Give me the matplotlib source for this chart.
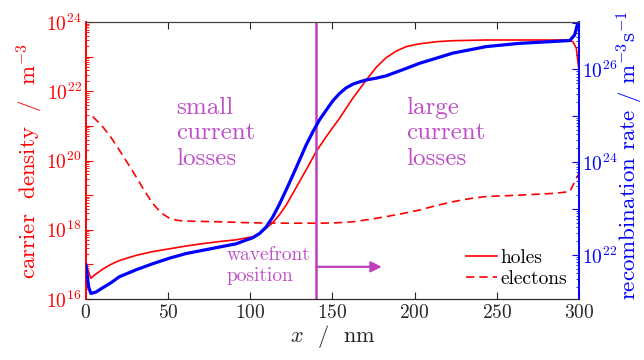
import numpy as np
import matplotlib
matplotlib.use('Agg')
import matplotlib.pyplot as plt
from matplotlib.ticker import FixedLocator, LogLocator, FuncFormatter, NullFormatter

plt.rcParams.update({
    'font.family': 'cmr10',
    'mathtext.fontset': 'cm',
    'axes.unicode_minus': False,
    'axes.formatter.use_mathtext': True,
    'font.size': 14,
})

# holes (left axis), log10 of carrier density in m^-3
holes_x = [0, 3.0, 5.1, 10.1, 15.2, 20.3, 30.5, 40.6, 50.8, 60.9, 71.1, 81.2, 91.4,
           101.5, 105.6, 109.6, 113.7, 117.7, 121.8, 125.9, 129.9, 134.0, 140.1,
           146.2, 154.3, 162.4, 170.5, 176.6, 182.7, 188.8, 194.9, 203.0, 213.2,
           223.3, 243.6, 292.3, 296.4, 298.4, 300]
holes_log = [16.98, 16.60, 16.69, 16.86, 17.00, 17.11, 17.26, 17.37, 17.45, 17.53,
             17.60, 17.66, 17.71, 17.80, 17.90, 18.04, 18.21, 18.43, 18.71, 19.05,
             19.39, 19.73, 20.26, 20.69, 21.22, 21.80, 22.32, 22.69, 22.97, 23.16,
             23.29, 23.37, 23.43, 23.46, 23.48, 23.48, 23.43, 23.24, 22.60]

# electrons (left axis)
elec_x = [4.1, 10.1, 15.2, 20.3, 25.4, 30.5, 35.5, 40.6, 45.7, 50.8, 55.8, 60.9,
          81.2, 101.5, 121.8, 142.1, 152.3, 162.4, 172.6, 182.7, 192.9, 203.0,
          213.2, 223.3, 233.5, 243.6, 263.9, 284.2, 294.4, 300]
elec_log = [21.27, 20.98, 20.67, 20.30, 19.92, 19.53, 19.13, 18.76, 18.49, 18.33,
            18.27, 18.25, 18.23, 18.20, 18.19, 18.19, 18.20, 18.23, 18.30, 18.38,
            18.47, 18.57, 18.70, 18.81, 18.90, 18.96, 19.00, 19.05, 19.10, 19.63]

# recombination rate (right axis), log10 in m^-3 s^-1
rec_x = [0, 1.6, 3.0, 6.1, 10.1, 15.2, 20.3, 30.5, 40.6, 50.8, 60.9, 71.1, 81.2,
         91.4, 97.4, 101.5, 105.6, 109.6, 113.7, 117.7, 121.8, 125.9, 129.9, 134.0,
         138.0, 142.1, 146.2, 150.2, 154.3, 158.3, 162.4, 166.5, 170.5, 176.6,
         182.7, 188.8, 194.9, 203.0, 213.2, 223.3, 233.5, 243.6, 263.9, 284.2,
         294.4, 297.4, 300]
rec_log = [21.78, 21.31, 21.17, 21.20, 21.29, 21.40, 21.53, 21.68, 21.81, 21.93,
           22.03, 22.10, 22.17, 22.24, 22.32, 22.37, 22.46, 22.60, 22.82, 23.09,
           23.40, 23.72, 24.04, 24.37, 24.65, 24.91, 25.12, 25.32, 25.48, 25.60,
           25.68, 25.73, 25.77, 25.81, 25.86, 25.94, 26.02, 26.13, 26.24, 26.35,
           26.42, 26.49, 26.56, 26.60, 26.62, 26.74, 27.10]

wavefront_x = 140
arrow_end_x = 180

RED = '#ff0000'
BLUE = '#0000ff'
MAG = '#bf40bf'
TXT = '#c050c8'


def even_decades(v, pos):
    e = int(round(np.log10(v)))
    return r'$10^{%d}$' % e if e % 2 == 0 else ''


fig = plt.figure(figsize=(6.44, 3.6), dpi=100)
ax1 = fig.add_axes([0.1335, 0.1694, 0.7655, 0.7695])
ax2 = ax1.twinx()

ax1.plot(holes_x, 10.0 ** np.array(holes_log), color=RED, lw=1.2, label='holes')
ax1.plot(elec_x, 10.0 ** np.array(elec_log), color=RED, lw=1.2, ls=(0, (5, 3)),
         label='electons')
ax2.plot(rec_x, 10.0 ** np.array(rec_log), color=BLUE, lw=2.3)

ax1.axvline(wavefront_x, color=MAG, lw=1.8)
ax1.annotate('', xy=(arrow_end_x, 10 ** 16.93), xytext=(wavefront_x, 10 ** 16.93),
             arrowprops=dict(arrowstyle='-|>', color=MAG, lw=1.6, mutation_scale=16,
                             shrinkA=0, shrinkB=0))

ax1.text(55, 10 ** 21.85, 'small\ncurrent\nlosses', color=TXT, fontsize=18,
         ha='left', va='top', linespacing=1.2)
ax1.text(195, 10 ** 21.85, 'large\ncurrent\nlosses', color=TXT, fontsize=18,
         ha='left', va='top', linespacing=1.2)
ax1.text(85.3, 10 ** 17.52, 'wavefront\nposition', color=TXT, fontsize=14,
         ha='left', va='top', linespacing=1.2)

ax1.set_xlim(0, 300)
ax1.set_yscale('log')
ax1.set_ylim(1e16, 1e24)
ax2.set_yscale('log')
ax2.set_ylim(10 ** 21.05, 10 ** 27.02)

for ax, lo, hi in [(ax1, 16, 24), (ax2, 21, 27)]:
    ax.yaxis.set_major_locator(FixedLocator(10.0 ** np.arange(lo, hi + 1)))
    ax.yaxis.set_major_formatter(FuncFormatter(even_decades))
    ax.yaxis.set_minor_locator(LogLocator(base=10, subs=np.arange(2, 10), numticks=100))
    ax.yaxis.set_minor_formatter(NullFormatter())

ax1.set_xticks([0, 50, 100, 150, 200, 250, 300])
ax1.tick_params(axis='x', direction='in', top=True, length=5, colors='#262626')
ax1.tick_params(axis='y', which='both', direction='in', colors=RED, pad=3)
ax1.tick_params(axis='y', which='major', length=5)
ax1.tick_params(axis='y', which='minor', length=2.5)
ax2.tick_params(axis='y', which='both', direction='in', colors=BLUE, pad=2)
ax2.tick_params(axis='y', which='major', length=5)
ax2.tick_params(axis='y', which='minor', length=2.5)

ax1.spines['right'].set_visible(False)
ax2.spines['left'].set_visible(False)
ax1.spines['left'].set_color(RED)
ax1.spines['left'].set_linewidth(1.4)
ax2.spines['right'].set_color(BLUE)
ax2.spines['right'].set_linewidth(1.4)
for ax in (ax1, ax2):
    ax.spines['top'].set_color('#404040')
    ax.spines['bottom'].set_color('#262626')

ax1.set_xlabel('$x$  /  nm', fontsize=16, color='#262626', labelpad=1)
ax1.set_ylabel('carrier  density  /  m$^{-3}$', fontsize=16.5, color=RED, labelpad=1)
ax2.set_ylabel('recombination rate / m$^{-3}$s$^{-1}$', fontsize=16.5, color=BLUE,
               labelpad=-2)
ax2.yaxis.label.set_y(0.52)

h, l = ax1.get_legend_handles_labels()
ax2.legend(h, l, loc='lower right', frameon=False, fontsize=14, handlelength=1.6,
           handletextpad=0.15, labelspacing=0.15, borderpad=0, borderaxespad=0,
           bbox_to_anchor=(0.975, 0.04))

fig.savefig('out.png', dpi=100)
